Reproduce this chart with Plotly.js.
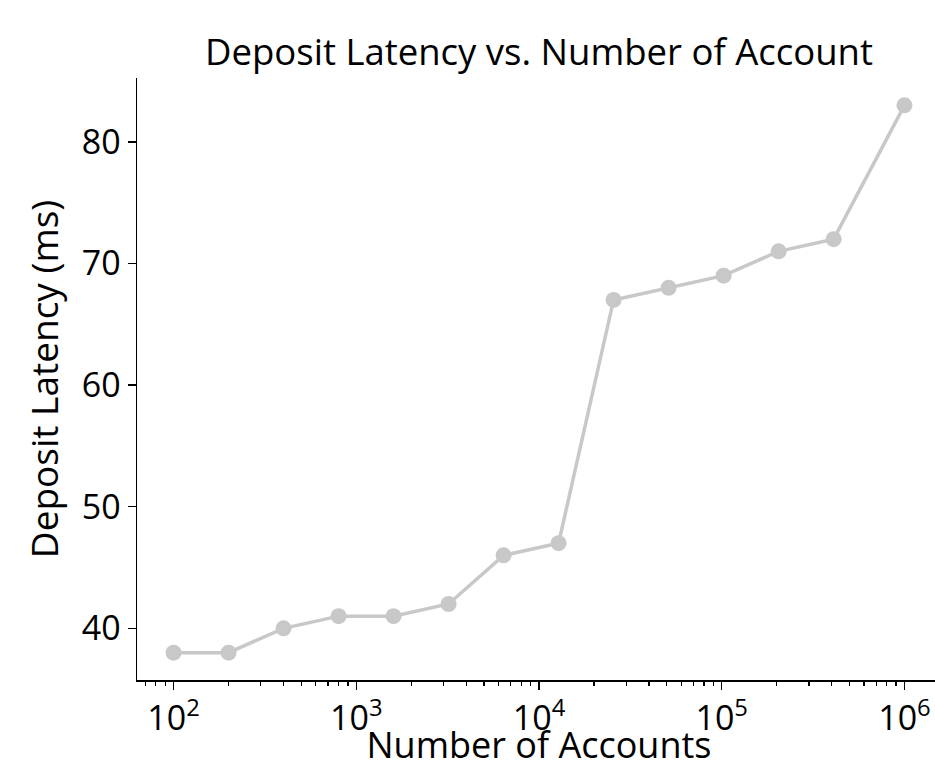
<!DOCTYPE html>
<html>
<head>
<meta charset="utf-8">
<script src="https://cdn.plot.ly/plotly-3.0.1.min.js"></script>
<style>
html,body{margin:0;padding:0;overflow:hidden;background:#fff;}
#chart{width:941px;height:769px;}
</style>
</head>
<body>
<div id="chart"></div>
<script>
const accounts = [100, 200, 400, 800, 1600, 3200, 6400, 12800, 25600, 51200, 102400, 204800, 409600, 1000000];
const latencyMs = [38, 38, 40, 41, 41, 42, 46, 47, 67, 68, 69, 71, 72, 83];
const xTickVals = [100, 1000, 10000, 100000, 1000000];
const xTickText = ['10<sup>2</sup>', '10<sup>3</sup>', '10<sup>4</sup>', '10<sup>5</sup>', '10<sup>6</sup>'];
const yTickVals = [40, 50, 60, 70, 80];

const font = 'Open Sans, sans-serif';
const trace = {
  x: accounts, y: latencyMs, type: 'scatter', mode: 'lines+markers',
  line: {color: '#c8c8c8', width: 3.5},
  marker: {color: '#c8c8c8', size: 16},
  hoverinfo: 'skip'
};
const layout = {
  width: 941, height: 769,
  margin: {l: 137, r: 0, t: 78, b: 89},
  paper_bgcolor: '#fff', plot_bgcolor: '#fff',
  showlegend: false,
  title: {text: 'Deposit Latency vs. Number of Account', font: {family: font, size: 36.5, color: '#000'},
          x: 0.5, xref: 'paper', y: 1 - 52 / 769, yref: 'container', yanchor: 'middle'},
  xaxis: {
    type: 'log', range: [1.8, 6.2],
    tickvals: xTickVals, ticktext: xTickText,
    ticks: 'outside', ticklen: 8, tickwidth: 1.5, tickcolor: '#000',
    minor: {ticks: 'outside', ticklen: 4.5, tickwidth: 1.2, tickcolor: '#000', dtick: 'D1', showgrid: false},
    showline: true, linecolor: '#000', linewidth: 1.5,
    showgrid: false, zeroline: false,
    tickfont: {family: font, size: 34, color: '#000'},
    title: {text: 'Number of Accounts', font: {family: font, size: 36, color: '#000'}, standoff: 6}
  },
  yaxis: {
    range: [35.75, 85.25],
    tickvals: yTickVals,
    ticks: 'outside', ticklen: 8, tickwidth: 1.5, tickcolor: '#000',
    showline: true, linecolor: '#000', linewidth: 1.5,
    showgrid: false, zeroline: false,
    tickfont: {family: font, size: 34, color: '#000'},
    title: {text: 'Deposit Latency (ms)', font: {family: font, size: 37, color: '#000'}, standoff: 12}
  }
};
Plotly.newPlot('chart', [trace], layout, {displayModeBar: false, staticPlot: true});
</script>
</body>
</html>
